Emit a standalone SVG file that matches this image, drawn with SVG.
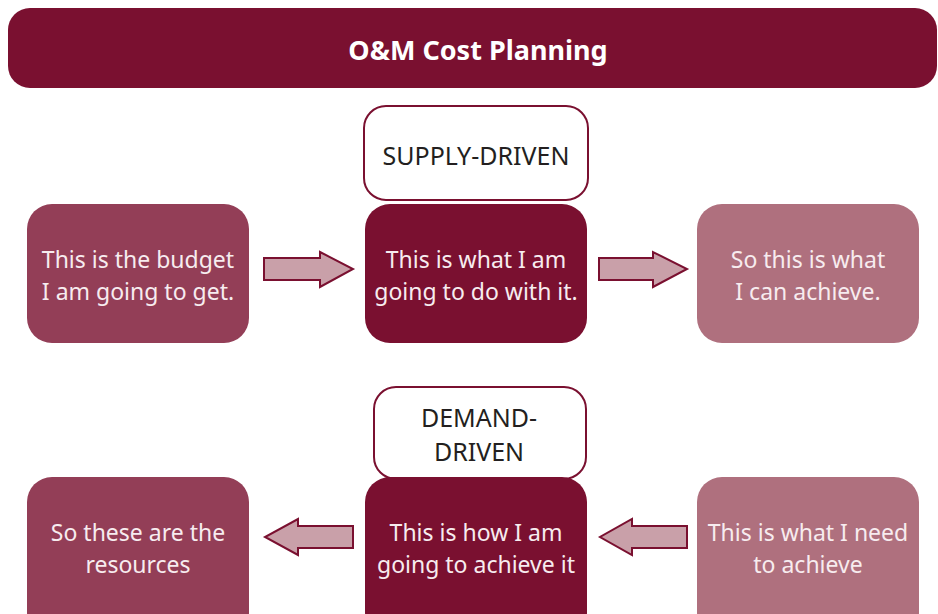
<svg xmlns="http://www.w3.org/2000/svg" width="938" height="614" viewBox="0 0 938 614">
<style>
.t{font-family:"Noto Sans","Open Sans",sans-serif;font-size:23px;fill:#F7ECEF;text-anchor:middle}
.l{font-family:"Noto Sans","Open Sans",sans-serif;font-size:25px;fill:#231F20;text-anchor:middle}
.h{font-family:"Noto Sans","Open Sans",sans-serif;font-size:27px;font-weight:bold;fill:#FFFFFF;text-anchor:middle}
.dk{fill:#7A1030}
.md{fill:#933E57}
.lt{fill:#AF707E}
.lb{fill:#FFFFFF;stroke:#7A1030;stroke-width:2}
.ar{fill:#C9A0A9;stroke:#7A1030;stroke-width:2}
</style>
<g id="header">
<rect x="8" y="8" width="929" height="80" rx="22" class="dk"/>
<text x="478" y="60" class="h">O&amp;M Cost Planning</text>
</g>
<g id="supply-label">
<rect x="364" y="106" width="224" height="94" rx="22" class="lb"/>
<text x="476" y="165" class="l">SUPPLY-DRIVEN</text>
</g>
<g id="budget">
<rect x="27" y="204" width="222" height="139" rx="25" class="md"/>
<text x="138" y="268" class="t">This is the budget</text>
<text x="138" y="300" class="t">I am going to get.</text>
</g>
<g id="do-with-it">
<rect x="365" y="204" width="222" height="139" rx="25" class="dk"/>
<text x="476" y="268" class="t">This is what I am</text>
<text x="476" y="300" class="t">going to do with it.</text>
</g>
<g id="achieve">
<rect x="697" y="204" width="222" height="139" rx="25" class="lt"/>
<text x="808" y="268" class="t">So this is what</text>
<text x="808" y="300" class="t">I can achieve.</text>
</g>
<g id="demand-label">
<rect x="374" y="387" width="212" height="92" rx="22" class="lb"/>
<text x="479" y="427" class="l">DEMAND-</text>
<text x="479" y="461" class="l">DRIVEN</text>
</g>
<g id="resources">
<rect x="27" y="477" width="222" height="160" rx="25" class="md"/>
<text x="138" y="541" class="t">So these are the</text>
<text x="138" y="573" class="t">resources</text>
</g>
<g id="how">
<rect x="365" y="477" width="222" height="160" rx="25" class="dk"/>
<text x="476" y="541" class="t">This is how I am</text>
<text x="476" y="573" class="t">going to achieve it</text>
</g>
<g id="need">
<rect x="697" y="477" width="222" height="160" rx="25" class="lt"/>
<text x="808" y="541" class="t">This is what I need</text>
<text x="808" y="573" class="t">to achieve</text>
</g>
<g id="connectors">
<polygon class="ar" points="264,258 320,258 320,252 353,269 320,287 320,280 264,280"/>
<polygon class="ar" points="599,258 653,258 653,252 687,269 653,287 653,280 599,280"/>
<polygon class="ar" points="353,526 298,526 298,519 265,537 298,555 298,548 353,548"/>
<polygon class="ar" points="687,526 632,526 632,519 600,537 632,555 632,548 687,548"/>
</g>
</svg>
